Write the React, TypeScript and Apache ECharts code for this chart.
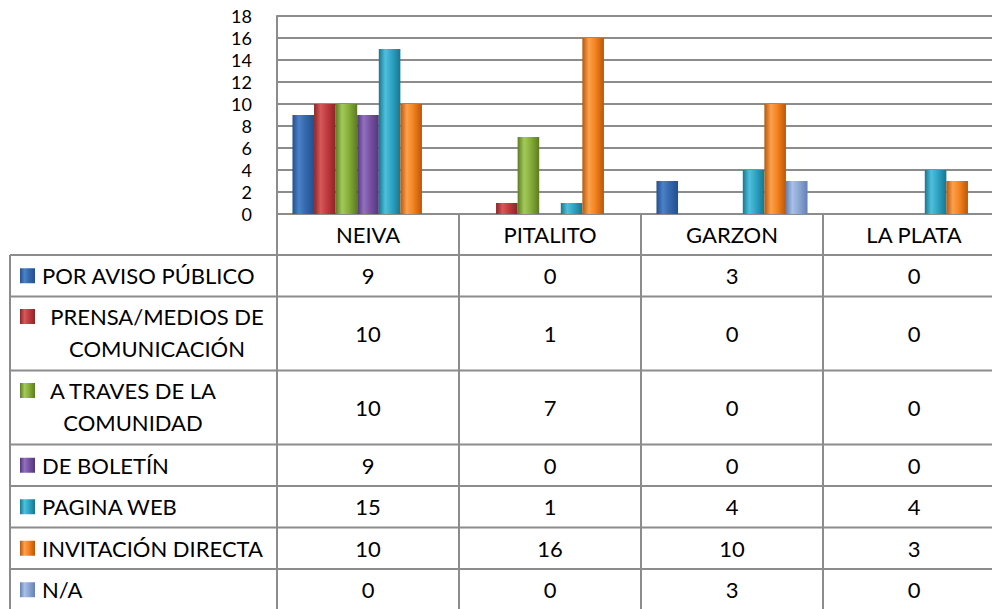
import React, { useEffect, useRef } from "react";
import * as echarts from "echarts";

const categories = ["NEIVA", "PITALITO", "GARZON", "LA PLATA"];
const seriesNames = [
  "POR AVISO PÚBLICO",
  "PRENSA/MEDIOS DE COMUNICACIÓN",
  "A TRAVES DE LA COMUNIDAD",
  "DE BOLETÍN",
  "PAGINA WEB",
  "INVITACIÓN DIRECTA",
  "N/A",
];
const labelLines = [
  ["POR AVISO PÚBLICO"],
  ["PRENSA/MEDIOS DE", "COMUNICACIÓN"],
  ["A TRAVES DE LA", "COMUNIDAD"],
  ["DE BOLETÍN"],
  ["PAGINA WEB"],
  ["INVITACIÓN DIRECTA"],
  ["N/A"],
];
const porAvisoPublico = [9, 0, 3, 0];
const prensaMedios = [10, 1, 0, 0];
const atravesComunidad = [10, 7, 0, 0];
const deBoletin = [9, 0, 0, 0];
const paginaWeb = [15, 1, 4, 4];
const invitacionDirecta = [10, 16, 10, 3];
const noAplica = [0, 0, 3, 0];
const seriesValues = [
  porAvisoPublico,
  prensaMedios,
  atravesComunidad,
  deBoletin,
  paginaWeb,
  invitacionDirecta,
  noAplica,
];
const yMin = 0;
const yMax = 18;
const yInterval = 2;

// [edge, light, base]
const palette = [
  ["#22508f", "#4a82c8", "#3568ad"],
  ["#8c2427", "#d6585b", "#bf3b3f"],
  ["#5c7c20", "#a3c95a", "#88ae3b"],
  ["#51367a", "#9270bd", "#7752a3"],
  ["#177690", "#4fc0dc", "#2ea4c4"],
  ["#b8570a", "#fca04e", "#f4821f"],
  ["#6480b3", "#a9c0e6", "#8ca6d4"],
];

const FONT = "Lato, 'Noto Sans', sans-serif";
const FS = 22;
const LINE = "#8c8c8c";

function grad(i: number) {
  const [edge, light, base] = palette[i];
  return new echarts.graphic.LinearGradient(0, 0, 1, 0, [
    { offset: 0, color: edge },
    { offset: 0.3, color: light },
    { offset: 0.6, color: base },
    { offset: 1, color: edge },
  ]);
}

export default function App() {
  const ref = useRef<HTMLDivElement>(null);
  useEffect(() => {
    document.body.style.margin = "0";
    const chart = echarts.init(ref.current!, undefined, { renderer: "svg" });
    const gridLeft = 277;
    const gridTop = 16;
    const gridW = 728;
    const gridH = 198;
    chart.setOption({
      animation: false,
      grid: {
        left: gridLeft,
        top: gridTop,
        width: gridW,
        height: gridH,
        containLabel: false,
        outerBoundsMode: "none",
      },
      xAxis: {
        type: "category",
        data: categories,
        axisLine: { show: true, lineStyle: { color: LINE, width: 2 } },
        axisTick: { show: false },
        axisLabel: { show: false },
      },
      yAxis: {
        type: "value",
        min: yMin,
        max: yMax,
        interval: yInterval,
        axisLine: { show: true, lineStyle: { color: LINE, width: 2 } },
        axisTick: { show: false },
        axisLabel: {
          color: "#000",
          fontFamily: FONT,
          fontSize: 18,
          lineHeight: 18,
          margin: 25,
        },
        splitLine: { lineStyle: { color: LINE, width: 2 } },
      },
      series: seriesValues.map((vals, i) => ({
        type: "bar",
        name: seriesNames[i],
        data: vals,
        barGap: "0%",
        barCategoryGap: "17%",
        itemStyle: { color: grad(i) },
      })),
    });

    const x0 = chart.convertToPixel({ xAxisIndex: 0 }, 0) as number;
    const x1 = chart.convertToPixel({ xAxisIndex: 0 }, 1) as number;
    const colW = x1 - x0;
    const colLeft = x0 - colW / 2;
    const centers = categories.map(
      (_, i) => chart.convertToPixel({ xAxisIndex: 0 }, i) as number
    );
    const axisY = chart.convertToPixel({ yAxisIndex: 0 }, 0) as number;
    const tableLeft = 10;
    const bottom = 640;
    const headerH = 41;
    const rowH = labelLines.map((l) => (l.length > 1 ? 74 : 41.5));
    const rowTops: number[] = [];
    let y = axisY + headerH;
    rowH.forEach((h) => {
      rowTops.push(y);
      y += h;
    });
    rowTops.push(y);

    const els: any[] = [];
    categories.forEach((c, i) => {
      els.push({
        type: "text",
        x: centers[i],
        y: axisY + headerH / 2,
        style: { text: c, fill: "#000", font: `${FS}px ${FONT}`, align: "center", verticalAlign: "middle" },
      });
    });
    els.push({ type: "line", shape: { x1: colLeft, y1: axisY, x2: colLeft, y2: bottom }, style: { stroke: LINE, lineWidth: 2 } });
    for (let i = 1; i <= categories.length; i++) {
      const xv = colLeft + colW * i;
      els.push({ type: "line", shape: { x1: xv, y1: axisY, x2: xv, y2: bottom }, style: { stroke: LINE, lineWidth: 2 } });
    }
    els.push({ type: "line", shape: { x1: tableLeft, y1: rowTops[0], x2: tableLeft, y2: bottom }, style: { stroke: LINE, lineWidth: 2 } });
    rowTops.forEach((ry) => {
      els.push({ type: "line", shape: { x1: tableLeft, y1: ry, x2: 1010, y2: ry }, style: { stroke: LINE, lineWidth: 2 } });
    });
    seriesNames.forEach((_, r) => {
      const top = rowTops[r];
      const h = rowH[r];
      const lines = labelLines[r];
      const firstY = lines.length > 1 ? top + 20 : top + h / 2;
      els.push({
        type: "rect",
        shape: { x: 20, y: firstY - 7.5, width: 15, height: 15 },
        style: { fill: grad(r) },
      });
      if (lines.length > 1) {
        const cx = r === 1 ? 157 : 133;
        lines.forEach((t, k) => {
          els.push({
            type: "text",
            x: cx,
            y: top + 20 + k * 32,
            style: { text: t, fill: "#000", font: `${FS}px ${FONT}`, align: "center", verticalAlign: "middle" },
          });
        });
      } else {
        els.push({
          type: "text",
          x: 42,
          y: firstY,
          style: { text: lines[0], fill: "#000", font: `${FS}px ${FONT}`, align: "left", verticalAlign: "middle" },
        });
      }
      seriesValues[r].forEach((v, c) => {
        els.push({
          type: "text",
          x: centers[c],
          y: top + h / 2,
          style: { text: String(v), fill: "#000", font: `${FS}px ${FONT}`, align: "center", verticalAlign: "middle" },
        });
      });
    });
    chart.setOption({ graphic: { elements: els } });
    return () => chart.dispose();
  }, []);
  return <div ref={ref} style={{ width: 992, height: 609 }} />;
}
